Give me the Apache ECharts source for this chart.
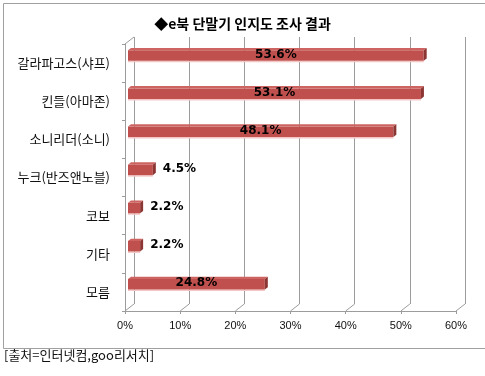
<!DOCTYPE html>
<html>
<head>
<meta charset="utf-8">
<script src="https://cdn.jsdelivr.net/npm/echarts@6/dist/echarts.min.js"></script>
<style>
html,body{margin:0;padding:0;background:#fff;}
#chart{width:485px;height:376px;}
</style>
</head>
<body>
<div id="chart"></div>
<script>
const categories = ['갈라파고스(샤프)', '킨들(아마존)', '소니리더(소니)', '누크(반즈앤노블)', '코보', '기타', '모름'];
const values = [53.6, 53.1, 48.1, 4.5, 2.2, 2.2, 24.8];
const xTicks = [0, 10, 20, 30, 40, 50, 60];
const titleText = '◆e북 단말기 인지도 조사 결과';
const sourceText = '[출처=인터넷컴,goo리서치]';

const DX = 9, DY = 7;           // 3D depth offset of the back wall
const GL = 125, GR = 29, GT = 44, GB = 65;
const gridColor = '#9c9c9c';
const KR = '"Noto Sans CJK KR", "Noto Sans", sans-serif';

const chart = echarts.init(document.getElementById('chart'), null, {renderer: 'canvas'});

const option = {
  animation: false,
  backgroundColor: '#fff',
  title: {
    text: titleText,
    left: 'center',
    top: 12,
    textStyle: {fontFamily: KR, fontSize: 14, fontWeight: 'bold', color: '#000'}
  },
  grid: [
    {left: GL, right: GR, top: GT, bottom: GB},
    {left: GL + DX, right: GR - DX, top: GT - DY, bottom: GB + DY}
  ],
  xAxis: [
    {
      gridIndex: 0, type: 'value', min: 0, max: 60, interval: 10,
      axisLine: {show: true, lineStyle: {color: gridColor}},
      axisTick: {show: true, length: 3, lineStyle: {color: gridColor}},
      splitLine: {show: false},
      axisLabel: {formatter: '{value}%', margin: 9, fontSize: 11, color: '#111', fontFamily: '"Liberation Sans", sans-serif'}
    },
    {
      gridIndex: 1, type: 'value', min: 0, max: 60, interval: 10,
      axisLine: {show: false}, axisTick: {show: false}, axisLabel: {show: false},
      splitLine: {show: true, lineStyle: {color: gridColor}}
    }
  ],
  yAxis: [
    {
      gridIndex: 0, type: 'category', data: categories, inverse: true,
      axisLine: {show: true, lineStyle: {color: gridColor}},
      axisTick: {show: true, length: 3, interval: 0, lineStyle: {color: gridColor}},
      axisLabel: {margin: 15, fontSize: 13, color: '#111', fontFamily: KR}
    },
    {
      gridIndex: 1, type: 'category', data: categories, inverse: true,
      axisLine: {show: false}, axisTick: {show: false}, axisLabel: {show: false},
      splitLine: {show: false}
    }
  ],
  series: [
    {
      type: 'custom',
      xAxisIndex: 0, yAxisIndex: 0,
      data: xTicks.map(t => [t, 0]),
      encode: {x: 0, y: 1},
      clip: false,
      silent: true,
      renderItem: function (params, api) {
        const t = api.value(0);
        const x = api.coord([t, 0])[0];
        const cs = params.coordSys;
        const bottom = cs.y + cs.height;
        const children = [{
          type: 'line',
          shape: {x1: x, y1: bottom, x2: x + DX, y2: bottom - DY},
          style: {stroke: gridColor, lineWidth: 1}
        }];
        if (t === 0) {
          children.push({
            type: 'line',
            shape: {x1: x, y1: cs.y, x2: x + DX, y2: cs.y - DY},
            style: {stroke: gridColor, lineWidth: 1}
          });
        }
        return {type: 'group', children: children};
      }
    },
    {
      type: 'custom',
      xAxisIndex: 0, yAxisIndex: 0,
      data: values.map((v, i) => [v, i]),
      encode: {x: 0, y: 1},
      clip: false,
      z: 5,
      renderItem: function (params, api) {
        const v = api.value(0), i = api.value(1);
        const p0 = api.coord([0, i]);
        const p1 = api.coord([v, i]);
        const band = api.size([0, 1])[1];
        const fx = DX / 3, fy = DY / 3;
        const x0 = p0[0] + fx, x1 = p1[0] + fx;
        const yB = p0[1] - fy;
        const yT = yB - band * 0.275;
        const label = v.toFixed(1) + '%';
        const inside = v >= 10;
        return {
          type: 'group',
          children: [
            {type: 'rect', shape: {x: x0, y: yB, width: x1 - x0, height: 1.5}, style: {fill: '#f3c6c5'}},
            {type: 'rect', shape: {x: x0, y: yT, width: x1 - x0, height: yB - yT}, style: {fill: '#c0504d'}},
            {type: 'polygon', shape: {points: [[x0, yT], [x1, yT], [x1 + fx, yT - fy], [x0 + fx, yT - fy]]}, style: {fill: '#cd6461'}},
            {type: 'polygon', shape: {points: [[x1, yT], [x1 + fx, yT - fy], [x1 + fx, yB - fy], [x1, yB]]}, style: {fill: '#8c3634'}},
            {
              type: 'text',
              style: {
                text: label,
                x: inside ? (x0 + x1) / 2 : x1 + fx + 7,
                y: (yT + yB) / 2 - 1,
                align: inside ? 'center' : 'left',
                verticalAlign: 'middle',
                fill: '#000',
                font: 'bold 12px "DejaVu Sans", sans-serif'
              }
            }
          ]
        };
      }
    }
  ],
  graphic: [
    {
      type: 'rect', left: 1, top: 1, z: -1,
      shape: {x: 0.5, y: 0.5, width: 482, height: 345},
      style: {fill: 'none', stroke: '#a0a0a0', lineWidth: 1}
    },
    {
      type: 'text', left: 4, top: 349,
      style: {text: sourceText, fill: '#111', font: '13px "Noto Sans CJK KR", sans-serif'}
    }
  ]
};
chart.setOption(option);
</script>
</body>
</html>
